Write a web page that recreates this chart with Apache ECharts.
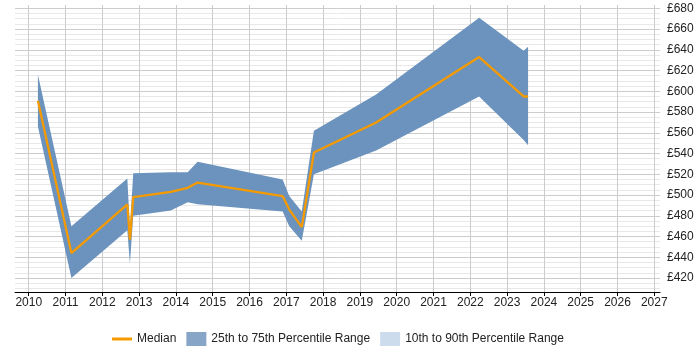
<!DOCTYPE html>
<html>
<head>
<meta charset="utf-8">
<script src="https://cdn.jsdelivr.net/npm/echarts@6/dist/echarts.min.js"></script>
<style>html,body{margin:0;padding:0;background:#fff}#c{width:700px;height:350px}</style>
</head>
<body>
<div id="c"></div>
<script>
// Data
var years   = [2010.25, 2011.16, 2012.68, 2012.75, 2012.84, 2013.86, 2014.32, 2014.59, 2016.90, 2017.08, 2017.42, 2017.75, 2019.44, 2022.24, 2023.45, 2023.57];
var median  = [591, 444, 491, 457, 498, 503, 507, 512, 499, 486, 469, 541, 570, 633, 595, 595];
var p25     = [566, 420, 466, 434, 480, 485, 493, 491, 484, 470, 456, 520, 543, 595, 553, 548];
var p75     = [616, 470, 516, 468, 521, 522, 522, 532, 515, 499, 484, 562, 597, 671, 639, 643];
var xTicks  = [2010, 2011, 2012, 2013, 2014, 2015, 2016, 2017, 2018, 2019, 2020, 2021, 2022, 2023, 2024, 2025, 2026, 2027];
var yLabels = [420, 440, 460, 480, 500, 520, 540, 560, 580, 600, 620, 640, 660, 680];
var yMinor  = [410, 415, 425, 430, 435, 445, 450, 455, 465, 470, 475, 485, 490, 495, 505, 510, 515, 525, 530, 535, 545, 550, 555, 565, 570, 575, 585, 590, 595, 605, 610, 615, 625, 630, 635, 645, 650, 655, 665, 670, 675];
var names = ['Median', '25th to 75th Percentile Range', '10th to 90th Percentile Range'];

var medData = years.map(function (x, i) { return [x, median[i]]; });

var Y_MIN = 406.5, Y_MAX = 683.2;
var chart = echarts.init(document.getElementById('c'), null, {renderer: 'canvas'});
var font = 'Liberation Sans, Arial, sans-serif';
chart.setOption({
  animation: false,
  textStyle: {fontFamily: font},
  grid: {left: 15, right: 40, top: 5, bottom: 58, containLabel: false},
  xAxis: {
    type: 'value', min: 2009.627, max: 2027.155,
    axisLine: {show: true, lineStyle: {color: '#000', width: 1}},
    axisTick: {show: true, length: 4, lineStyle: {color: '#000'}, customValues: xTicks},
    axisLabel: {customValues: xTicks, color: '#222', fontSize: 12, fontFamily: font, margin: 5,
      formatter: function (v) { return String(Math.round(v)); }},
    splitLine: {show: true, lineStyle: {color: '#cccccc', width: 1}}
  },
  yAxis: [{
    type: 'value', position: 'right', min: Y_MIN, max: Y_MAX,
    axisLine: {show: false},
    axisTick: {show: false, customValues: yLabels},
    axisLabel: {customValues: yLabels, color: '#222', fontSize: 12, fontFamily: font, margin: 7,
      formatter: function (v) { return '£' + Math.round(v); }},
    splitLine: {show: true, lineStyle: {color: '#cccccc', width: 1}},
    z: 1
  }, {
    type: 'value', position: 'right', min: Y_MIN, max: Y_MAX,
    axisLine: {show: false},
    axisTick: {show: false, customValues: yMinor},
    axisLabel: {show: false, customValues: yMinor},
    splitLine: {show: true, lineStyle: {color: '#e8e8e8', width: 1}},
    z: 0
  }],
  legend: {
    left: 107, top: 327, itemWidth: 20, itemHeight: 14, itemGap: 10,
    textStyle: {color: '#222', fontSize: 12, fontFamily: font},
    data: [
      {name: names[0], icon: 'path://M0,0 L20,0 L20,3 L0,3 Z', itemStyle: {color: '#f59a00'}},
      {name: names[1], icon: 'rect', itemStyle: {color: '#87a5c7'}},
      {name: names[2], icon: 'rect', itemStyle: {color: '#cddcec'}}
    ]
  },
  series: [
    {name: names[1], type: 'custom', data: [0], itemStyle: {color: '#6b93bd'}, z: 2,
      renderItem: function (params, api) {
        var pts = [];
        for (var i = 0; i < years.length; i++) pts.push(api.coord([years[i], p75[i]]));
        for (var j = years.length - 1; j >= 0; j--) pts.push(api.coord([years[j], p25[j]]));
        return {type: 'polygon', shape: {points: pts}, style: {fill: '#6b93bd', stroke: null}};
      }},
    {name: names[2], type: 'line', data: [], symbol: 'none', itemStyle: {color: '#cddcec'}},
    {name: names[0], type: 'line', data: medData, symbol: 'none',
      lineStyle: {color: '#f59a00', width: 2.3}, itemStyle: {color: '#f59a00'}, z: 5}
  ]
});
</script>
</body>
</html>
